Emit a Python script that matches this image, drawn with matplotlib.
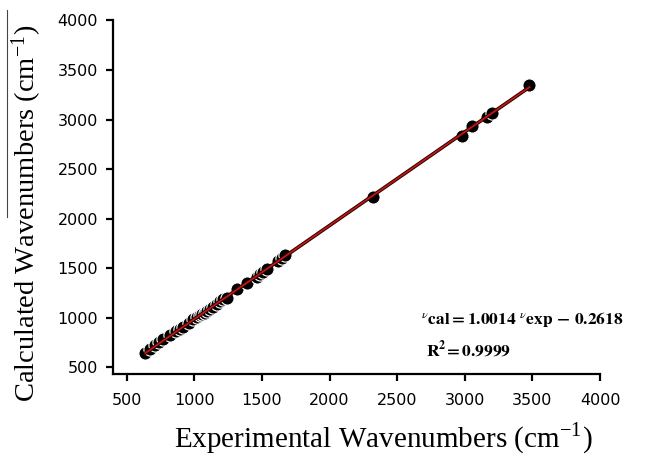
import matplotlib
matplotlib.use('Agg')
import matplotlib.pyplot as plt
from matplotlib.lines import Line2D
import numpy as np

# experimental vs calculated wavenumbers (in tick units)
exp_wn = [635, 672, 709, 740, 771, 820, 865, 890, 919, 960, 993, 1020, 1040,
          1055, 1075, 1095, 1116, 1140, 1165, 1190, 1215, 1240, 1313, 1388,
          1460, 1486, 1510, 1535, 1621, 1645, 1671, 2320, 2977, 3056, 3163,
          3200, 3478]
cal_wn = [645, 682, 719, 750, 780, 823, 863, 886, 908, 948, 981, 1008, 1025,
          1032, 1050, 1068, 1082, 1108, 1135, 1166, 1185, 1200, 1284, 1352,
          1412, 1435, 1460, 1486, 1570, 1598, 1627, 2215, 2838, 2939, 3023,
          3067, 3353]

x_ticks = [500, 1000, 1500, 2000, 2500, 3000, 3500, 4000]
y_ticks = [500, 1000, 1500, 2000, 2500, 3000, 3500, 4000]

plt.rcParams['mathtext.fontset'] = 'stix'

fig = plt.figure(figsize=(6.49, 4.55), dpi=100)
ax = fig.add_axes([0.1746, 0.178, 0.7499, 0.777])

x = np.array(exp_wn)
y = np.array(cal_wn)
ax.plot(x, y, 'o', color='black', markersize=9.5, markeredgecolor='white',
        markeredgewidth=0.8, zorder=2)
# trend line through the points
p = np.polyfit(x, y, 1)
xx = np.array([x.min(), x.max()])
ax.plot(xx, np.polyval(p, xx), color='#2a0000', linewidth=2.6, zorder=3)
ax.plot(xx, np.polyval(p, xx), color='#c01818', linewidth=1.2, zorder=4)

ax.set_xlim(400, 4000)
ax.set_ylim(430, 4000)
ax.set_xticks(x_ticks)
ax.set_yticks(y_ticks)
for s in ['top', 'right']:
    ax.spines[s].set_visible(False)
for s in ['left', 'bottom']:
    ax.spines[s].set_linewidth(1.6)
ax.tick_params(direction='out', length=5, width=1.6, labelsize=11.5, pad=6)
ax.tick_params(axis='x', pad=9)

ax.set_xlabel('Experimental Wavenumbers (cm$^{\\mathregular{-1}}$)',
              family='Liberation Serif', fontsize=21)
ax.set_ylabel('Calculated Wavenumbers (cm$^{\\mathregular{-1}}$)',
              family='Liberation Serif', fontsize=20.5)
ax.xaxis.set_label_coords(0.555, -0.135)
ax.yaxis.set_label_coords(-0.142, 0.455)

ax.text(0.632, 0.14, r'$^{\nu}\mathbf{cal = 1.0014}\ ^{\nu}\mathbf{exp\ \!-\ \!0.2618}$',
        transform=ax.transAxes, fontsize=12.5)
ax.text(0.642, 0.05, r'$\mathbf{R^{2}\!= 0.9999}$',
        transform=ax.transAxes, fontsize=12.5)

# stray vertical rule at far left of the original figure
fig.add_artist(Line2D([7 / 649, 7 / 649], [1 - 10 / 455, 1 - 217 / 455],
                      color='#444444', linewidth=0.8))

fig.savefig('out.png', dpi=100)
